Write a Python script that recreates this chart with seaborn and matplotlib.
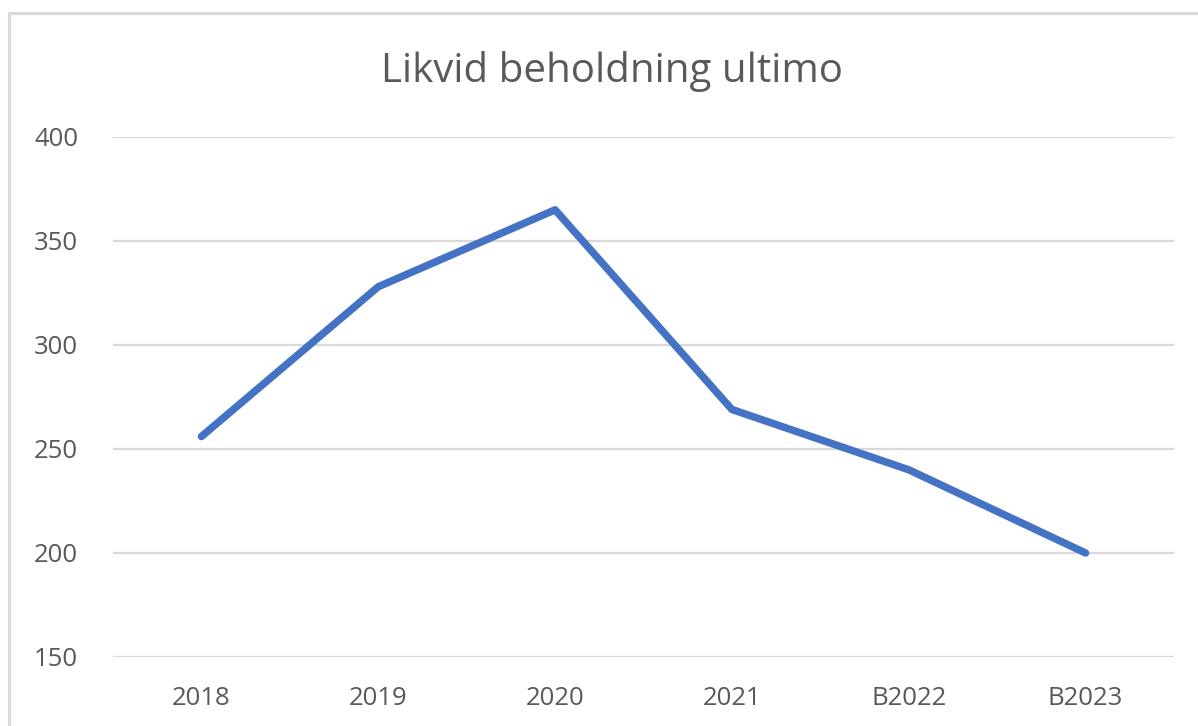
import matplotlib
matplotlib.use("Agg")
import matplotlib.pyplot as plt
import seaborn as sns
import pandas as pd
from matplotlib.patches import Rectangle

years = ["2018", "2019", "2020", "2021", "B2022", "B2023"]
beholdning = [256, 328, 365, 269, 240, 200]
yticks = [150, 200, 250, 300, 350, 400]

df = pd.DataFrame({"aar": years, "beholdning": beholdning})

sns.set_theme(style="white")
plt.rcParams["font.family"] = ["Open Sans", "DejaVu Sans"]

grey = "#595959"
fig = plt.figure(figsize=(11.98, 7.26), dpi=100)
ax = fig.add_axes([113 / 1198, 1 - 657 / 726, (1174 - 113) / 1198, (657 - 137) / 726])

# chart border like excel
fig.patches.append(Rectangle((9 / 1198, -0.1), 1.2, 1 - 13 / 726 + 0.1, transform=fig.transFigure,
                             fill=False, edgecolor="#d9d9d9", linewidth=2.2))

sns.lineplot(data=df, x="aar", y="beholdning", ax=ax, color="#4472C4", linewidth=5.4,
             solid_capstyle="round", solid_joinstyle="round", sort=False)

ax.set_xlim(-0.5, 5.5)
ax.set_ylim(150, 400)
ax.set_yticks(yticks)
ax.grid(axis="y", color="#d9d9d9", linewidth=1.6)
ax.set_axisbelow(True)
for s in ax.spines.values():
    s.set_visible(False)
ax.tick_params(axis="both", length=0, colors=grey, labelsize=18.5)
ax.tick_params(axis="y", pad=25)
ax.tick_params(axis="x", pad=21)
ax.set_xlabel("")
ax.set_ylabel("")

fig.text(612 / 1198, 1 - 72 / 726, "Likvid beholdning ultimo", ha="center", va="center",
         fontsize=29, color=grey)

fig.savefig("out.png", dpi=100)
